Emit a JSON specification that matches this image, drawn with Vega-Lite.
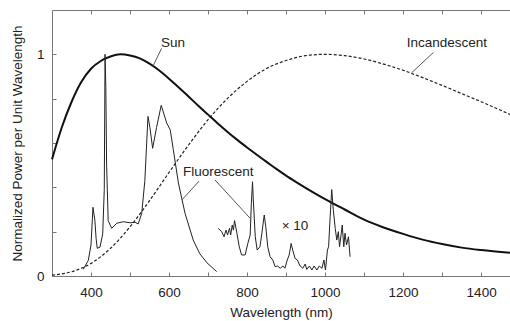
{
  "$schema": "https://vega.github.io/schema/vega-lite/v6.json",
  "width": 458,
  "height": 266,
  "autosize": "none",
  "padding": {"left": 52, "top": 10, "right": 0, "bottom": 45},
  "background": "white",
  "config": {
    "view": {"stroke": null},
    "font": "Liberation Sans",
    "axis": {
      "grid": false,
      "domainColor": "#777",
      "tickColor": "#777",
      "labelColor": "#222",
      "titleColor": "#222",
      "labelFontSize": 13.5,
      "titleFontSize": 13.5,
      "titleFontWeight": "normal",
      "labelFlush": false,
      "labelOverlap": false
    }
  },
  "datasets": {
    "sun": [
      {"w": 300, "v": 0.526}, {"w": 325, "v": 0.67}, {"w": 350, "v": 0.785}, {"w": 375, "v": 0.875},
      {"w": 400, "v": 0.935}, {"w": 425, "v": 0.97}, {"w": 450, "v": 0.99}, {"w": 475, "v": 1.0},
      {"w": 500, "v": 0.995}, {"w": 525, "v": 0.982}, {"w": 550, "v": 0.958}, {"w": 575, "v": 0.927},
      {"w": 600, "v": 0.89}, {"w": 625, "v": 0.85}, {"w": 650, "v": 0.81}, {"w": 675, "v": 0.768},
      {"w": 700, "v": 0.728}, {"w": 725, "v": 0.688}, {"w": 750, "v": 0.65}, {"w": 775, "v": 0.614},
      {"w": 800, "v": 0.58}, {"w": 825, "v": 0.547}, {"w": 850, "v": 0.515}, {"w": 875, "v": 0.483},
      {"w": 900, "v": 0.453}, {"w": 925, "v": 0.425}, {"w": 950, "v": 0.398}, {"w": 975, "v": 0.372},
      {"w": 1000, "v": 0.347}, {"w": 1050, "v": 0.3}, {"w": 1100, "v": 0.254}, {"w": 1150, "v": 0.219},
      {"w": 1200, "v": 0.19}, {"w": 1250, "v": 0.164}, {"w": 1300, "v": 0.144}, {"w": 1350, "v": 0.128},
      {"w": 1400, "v": 0.117}, {"w": 1474, "v": 0.105}
    ],
    "incand": [
      {"w": 300, "v": 0.004}, {"w": 350, "v": 0.019}, {"w": 400, "v": 0.057}, {"w": 450, "v": 0.125},
      {"w": 500, "v": 0.222}, {"w": 550, "v": 0.34}, {"w": 600, "v": 0.467}, {"w": 650, "v": 0.591},
      {"w": 700, "v": 0.705}, {"w": 750, "v": 0.801}, {"w": 800, "v": 0.878}, {"w": 850, "v": 0.936},
      {"w": 900, "v": 0.972}, {"w": 950, "v": 0.994}, {"w": 1000, "v": 1.0}, {"w": 1050, "v": 0.994},
      {"w": 1100, "v": 0.979}, {"w": 1150, "v": 0.956}, {"w": 1200, "v": 0.928}, {"w": 1250, "v": 0.895},
      {"w": 1300, "v": 0.86}, {"w": 1350, "v": 0.823}, {"w": 1400, "v": 0.786}, {"w": 1474, "v": 0.729}
    ],
    "fluor": [
      {"seg": "a", "w": 380, "v": 0.03}, {"seg": "a", "w": 393, "v": 0.07}, {"seg": "a", "w": 400, "v": 0.14},
      {"seg": "a", "w": 405, "v": 0.31}, {"seg": "a", "w": 410, "v": 0.25}, {"seg": "a", "w": 413, "v": 0.17},
      {"seg": "a", "w": 416, "v": 0.125}, {"seg": "a", "w": 423, "v": 0.13}, {"seg": "a", "w": 430, "v": 0.19},
      {"seg": "a", "w": 434, "v": 0.39}, {"seg": "a", "w": 436, "v": 1.0}, {"seg": "a", "w": 438, "v": 0.85},
      {"seg": "a", "w": 440, "v": 0.5}, {"seg": "a", "w": 444, "v": 0.25}, {"seg": "a", "w": 453, "v": 0.215},
      {"seg": "a", "w": 466, "v": 0.238}, {"seg": "a", "w": 483, "v": 0.245}, {"seg": "a", "w": 500, "v": 0.24},
      {"seg": "a", "w": 513, "v": 0.242}, {"seg": "a", "w": 521, "v": 0.235}, {"seg": "a", "w": 530, "v": 0.283},
      {"seg": "a", "w": 538, "v": 0.43}, {"seg": "a", "w": 546, "v": 0.72}, {"seg": "a", "w": 551, "v": 0.67},
      {"seg": "a", "w": 558, "v": 0.576}, {"seg": "a", "w": 568, "v": 0.67}, {"seg": "a", "w": 580, "v": 0.77},
      {"seg": "a", "w": 594, "v": 0.69}, {"seg": "a", "w": 603, "v": 0.66}, {"seg": "a", "w": 611, "v": 0.57},
      {"seg": "a", "w": 624, "v": 0.42}, {"seg": "a", "w": 641, "v": 0.283}, {"seg": "a", "w": 662, "v": 0.162},
      {"seg": "a", "w": 679, "v": 0.1}, {"seg": "a", "w": 697, "v": 0.06}, {"seg": "a", "w": 722, "v": 0.02},
      {"seg": "b", "w": 726, "v": 0.215}, {"seg": "b", "w": 735, "v": 0.2}, {"seg": "b", "w": 741, "v": 0.177},
      {"seg": "b", "w": 746, "v": 0.207}, {"seg": "b", "w": 750, "v": 0.185}, {"seg": "b", "w": 755, "v": 0.215},
      {"seg": "b", "w": 758, "v": 0.185}, {"seg": "b", "w": 762, "v": 0.23}, {"seg": "b", "w": 765, "v": 0.207},
      {"seg": "b", "w": 768, "v": 0.25}, {"seg": "b", "w": 774, "v": 0.193}, {"seg": "b", "w": 780, "v": 0.132},
      {"seg": "b", "w": 786, "v": 0.095}, {"seg": "b", "w": 795, "v": 0.095}, {"seg": "b", "w": 802, "v": 0.147},
      {"seg": "b", "w": 808, "v": 0.185}, {"seg": "b", "w": 811, "v": 0.328}, {"seg": "b", "w": 814, "v": 0.425},
      {"seg": "b", "w": 816, "v": 0.343}, {"seg": "b", "w": 821, "v": 0.177}, {"seg": "b", "w": 826, "v": 0.117},
      {"seg": "b", "w": 833, "v": 0.132}, {"seg": "b", "w": 838, "v": 0.193}, {"seg": "b", "w": 844, "v": 0.275},
      {"seg": "b", "w": 848, "v": 0.222}, {"seg": "b", "w": 853, "v": 0.132}, {"seg": "b", "w": 859, "v": 0.087},
      {"seg": "b", "w": 866, "v": 0.072}, {"seg": "b", "w": 872, "v": 0.042}, {"seg": "b", "w": 878, "v": 0.045},
      {"seg": "b", "w": 885, "v": 0.035}, {"seg": "b", "w": 892, "v": 0.045}, {"seg": "b", "w": 897, "v": 0.035},
      {"seg": "b", "w": 903, "v": 0.072}, {"seg": "b", "w": 908, "v": 0.095}, {"seg": "b", "w": 913, "v": 0.147},
      {"seg": "b", "w": 917, "v": 0.117}, {"seg": "b", "w": 923, "v": 0.08}, {"seg": "b", "w": 929, "v": 0.072},
      {"seg": "b", "w": 936, "v": 0.045}, {"seg": "b", "w": 943, "v": 0.035}, {"seg": "b", "w": 949, "v": 0.054},
      {"seg": "b", "w": 953, "v": 0.03}, {"seg": "b", "w": 960, "v": 0.045}, {"seg": "b", "w": 966, "v": 0.027},
      {"seg": "b", "w": 972, "v": 0.045}, {"seg": "b", "w": 979, "v": 0.027}, {"seg": "b", "w": 985, "v": 0.045},
      {"seg": "b", "w": 992, "v": 0.035}, {"seg": "b", "w": 997, "v": 0.072}, {"seg": "b", "w": 1001, "v": 0.027},
      {"seg": "b", "w": 1006, "v": 0.117}, {"seg": "b", "w": 1009, "v": 0.132}, {"seg": "b", "w": 1013, "v": 0.267},
      {"seg": "b", "w": 1017, "v": 0.39}, {"seg": "b", "w": 1021, "v": 0.3}, {"seg": "b", "w": 1026, "v": 0.215},
      {"seg": "b", "w": 1030, "v": 0.162}, {"seg": "b", "w": 1034, "v": 0.2}, {"seg": "b", "w": 1037, "v": 0.132},
      {"seg": "b", "w": 1041, "v": 0.185}, {"seg": "b", "w": 1044, "v": 0.23}, {"seg": "b", "w": 1048, "v": 0.132},
      {"seg": "b", "w": 1051, "v": 0.193}, {"seg": "b", "w": 1055, "v": 0.14}, {"seg": "b", "w": 1060, "v": 0.177},
      {"seg": "b", "w": 1064, "v": 0.087}
    ],
    "leaders": [
      {"w": 581, "v": 1.027, "w2": 558, "v2": 0.944},
      {"w": 1278, "v": 1.009, "w2": 1222, "v2": 0.917},
      {"w": 677, "v": 0.428, "w2": 633, "v2": 0.343},
      {"w": 718, "v": 0.433, "w2": 808, "v2": 0.26}
    ],
    "labels": [
      {"w": 610, "v": 1.051, "t": "Sun"},
      {"w": 1312, "v": 1.051, "t": "Incandescent"},
      {"w": 726, "v": 0.469, "t": "Fluorescent"},
      {"w": 923, "v": 0.226, "t": "× 10"}
    ]
  },
  "resolve": {"axis": {"x": "independent"}},
  "layer": [
    {
      "data": {"name": "incand"},
      "mark": {"type": "line", "color": "#222", "strokeWidth": 1.2, "strokeDash": [3, 2], "interpolate": "monotone"},
      "encoding": {
        "x": {
          "field": "w", "type": "quantitative",
          "scale": {"domain": [300, 1474], "nice": false, "zero": false},
          "axis": {
            "orient": "bottom",
            "values": [400, 500, 600, 700, 800, 900, 1000, 1100, 1200, 1300, 1400],
            "format": "d",
            "labelExpr": "datum.value % 200 == 0 ? datum.label : ''",
            "tickSize": -4,
            "labelPadding": 13,
            "title": "Wavelength (nm)",
            "titlePadding": 7
          }
        },
        "y": {
          "field": "v", "type": "quantitative",
          "scale": {"domain": [0, 1.2], "nice": false},
          "axis": {
            "orient": "left",
            "values": [0, 0.2, 0.4, 0.6, 0.8, 1],
            "labelExpr": "datum.value == 0 ? '0' : (datum.value == 1 ? '1' : '')",
            "tickSize": -4,
            "labelPadding": 12,
            "title": "Normalized Power per Unit Wavelength",
            "titlePadding": 12
          }
        }
      }
    },
    {
      "data": {"name": "sun"},
      "mark": {"type": "line", "color": "#111", "strokeWidth": 2, "interpolate": "monotone"},
      "encoding": {
        "x": {"field": "w", "type": "quantitative", "axis": null},
        "y": {"field": "v", "type": "quantitative"}
      }
    },
    {
      "data": {"name": "fluor"},
      "mark": {"type": "line", "color": "#222", "strokeWidth": 1},
      "encoding": {
        "x": {"field": "w", "type": "quantitative", "axis": null},
        "y": {"field": "v", "type": "quantitative"},
        "detail": {"field": "seg"}
      }
    },
    {
      "data": {"name": "leaders"},
      "mark": {"type": "rule", "color": "#444", "strokeWidth": 0.9},
      "encoding": {
        "x": {
          "field": "w", "type": "quantitative",
          "axis": {
            "orient": "top",
            "values": [400, 500, 600, 700, 800, 900, 1000, 1100, 1200, 1300, 1400],
            "labels": false,
            "tickSize": -4,
            "title": null
          }
        },
        "y": {"field": "v", "type": "quantitative"},
        "x2": {"field": "w2"},
        "y2": {"field": "v2"}
      }
    },
    {
      "data": {"name": "labels"},
      "mark": {"type": "text", "fontSize": 13.5, "color": "#222", "align": "center", "baseline": "middle"},
      "encoding": {
        "x": {"field": "w", "type": "quantitative", "axis": null},
        "y": {"field": "v", "type": "quantitative"},
        "text": {"field": "t"}
      }
    }
  ]
}
